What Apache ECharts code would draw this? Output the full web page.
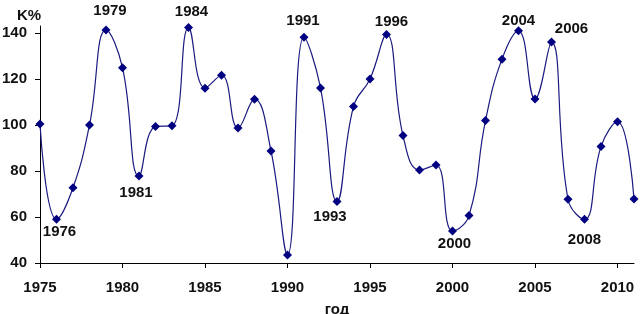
<!DOCTYPE html>
<html><head><meta charset="utf-8">
<script src="https://cdn.jsdelivr.net/npm/echarts@6/dist/echarts.min.js"></script>
<style>html,body{margin:0;padding:0;background:#fff}#c{width:642px;height:314px}</style>
</head><body><div id="c"></div>
<script>
// ---- data ----
const years = [1975,1976,1977,1978,1979,1980,1981,1982,1983,1984,1985,1986,1987,1988,1989,1990,1991,1992,1993,1994,1995,1996,1997,1998,1999,2000,2001,2002,2003,2004,2005,2006,2007,2008,2009,2010,2011];
const values = [100.4,59.0,72.7,100,141.3,124.9,77.8,99.3,99.6,142.3,116,121.6,98.7,111.2,88.7,43.5,138.1,116.1,66.7,108,120,139.3,95.4,80.4,82.6,53.9,60.6,101.9,128.6,140.9,111.3,136,67.7,59,90.6,101.4,67.8];
const labelYears = [1976,1979,1981,1984,1991,1993,1996,2000,2004,2006,2008];
const xTicks = [1975,1980,1985,1990,1995,2000,2005,2010];
const yTicks = [40,60,80,100,120,140];
const yName = 'K%';
const xName = 'год';

// ---- style ----
const labelOffsets = {1976:[3,13],1979:[4,-19],1981:[-3,17],1984:[3,-16],1991:[-1,-16],1993:[-7,15],1996:[5,-13],2000:[2,13],2004:[0,-10],2006:[20,-13],2008:[0,21]};
const font = {fontFamily:'Liberation Sans, Arial, sans-serif', fontWeight:'bold', fontSize:15, color:'#111'};

const data = years.map((y,i)=>{
  const item = {value:[y, values[i]]};
  if (labelYears.includes(y)) {
    item.label = Object.assign({show:true, position:'inside', offset:labelOffsets[y], formatter:String(y), align:'center', verticalAlign:'middle'}, font);
  }
  return item;
});

const chart = echarts.init(document.getElementById('c'), null, {renderer:'canvas'});
chart.setOption({
  animation:false,
  title:{text:yName, left:12, top:3, textStyle:Object.assign({}, font)},
  grid:{left:40, right:8, top:26, bottom:51, containLabel:false, outerBoundsMode:'none'},
  xAxis:{type:'value', min:1975, max:2011, name:xName, nameLocation:'middle', nameGap:39,
    nameTextStyle:Object.assign({}, font),
    axisLine:{show:true, lineStyle:{color:'#000', width:1}},
    axisTick:{show:true, length:5, customValues:xTicks, lineStyle:{color:'#000'}},
    axisLabel:Object.assign({customValues:xTicks, margin:17, formatter:v=>String(v)}, font),
    splitLine:{show:false}},
  yAxis:{type:'value', min:40, max:143,
    axisLine:{show:true, lineStyle:{color:'#000', width:1}},
    axisTick:{show:true, length:5, customValues:yTicks, lineStyle:{color:'#000'}},
    axisLabel:Object.assign({customValues:yTicks, margin:13}, font),
    splitLine:{show:false}},
  series:[{type:'line', data:data, smooth:0.45, symbol:'diamond', symbolSize:9,
    lineStyle:{color:'#1a1a80', width:1.2}, itemStyle:{color:'#000080'}, clip:false}]
});
</script></body></html>
